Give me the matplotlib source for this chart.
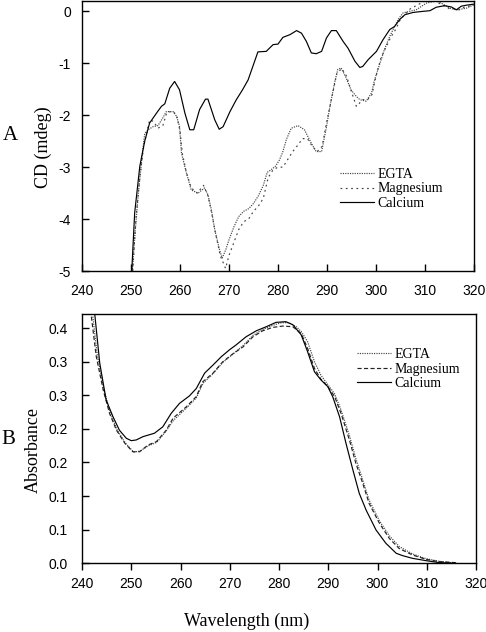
import matplotlib
matplotlib.use("Agg")
import matplotlib.pyplot as plt

# ---- panel A: CD spectra (mdeg) ----
cd_wl_egta = [250.2, 250.8, 251.5, 252.3, 252.8, 253.5, 254.5, 255.5, 256.5, 257.2,
              258.6, 259.3, 259.9, 260.3, 261.3, 262.3, 263.7, 265.0, 265.7, 266.4,
              267.1, 268.1, 268.6, 269.3, 270.0, 271.0, 272.0, 273.0, 274.0, 275.0,
              276.0, 277.0, 277.8, 278.6, 279.5, 280.3, 281.0, 281.7, 282.7, 284.1,
              285.4, 286.8, 287.8, 288.9, 289.9, 290.6, 291.6, 292.2, 292.9, 293.9,
              294.9, 296.0, 296.7, 298.0, 299.1, 299.7, 300.7, 301.7, 302.8, 303.8,
              304.5, 305.5, 306.8, 308.2, 310.3, 312.3, 313.3, 315.0, 316.4, 318.4,
              319.8]
cd_egta = [-5.1, -4.3, -3.5, -2.75, -2.35, -2.28, -2.22, -2.2, -2.05, -1.93,
           -1.93, -2.02, -2.21, -2.73, -3.11, -3.44, -3.5, -3.40, -3.53, -3.82,
           -4.21, -4.6, -4.75, -4.6, -4.4, -4.15, -3.95, -3.85, -3.8, -3.7,
           -3.55, -3.35, -3.1, -3.05, -2.98, -2.86, -2.7, -2.47, -2.25, -2.20,
           -2.28, -2.54, -2.70, -2.70, -2.22, -1.83, -1.35, -1.12, -1.09, -1.28,
           -1.51, -1.64, -1.70, -1.73, -1.57, -1.32, -1.03, -0.74, -0.48, -0.29,
           -0.16, -0.03, 0.0, 0.03, 0.16, 0.2, 0.16, 0.065, 0.03, 0.06,
           0.12]

cd_wl_mg = [250.3, 251.0, 251.8, 252.6, 253.3, 253.8, 254.6, 255.5, 256.5, 257.3,
            258.5, 259.3, 260.0, 260.5, 261.3, 262.3, 263.5, 264.8, 265.7, 266.4,
            267.2, 268.2, 269.3, 270.0, 271.0, 272.0, 273.0, 274.0, 275.0, 276.0,
            277.0, 278.0, 279.0, 280.0, 281.0, 282.0, 283.0, 284.1, 285.0, 286.0,
            287.0, 288.0, 289.0, 290.0, 291.0, 292.0, 293.0, 294.0, 295.0, 296.0,
            297.3, 298.3, 299.2, 300.0, 301.0, 302.0, 303.0, 304.0, 305.0, 306.0,
            307.0, 308.0, 309.0, 310.0, 311.0, 312.0, 313.0, 314.0, 315.0, 316.0,
            317.0, 318.0, 319.0, 320.0]
cd_mg = [-5.1, -4.0, -3.2, -2.6, -2.3, -2.09, -2.12, -2.25, -2.2, -1.95,
         -1.92, -2.0, -2.3, -2.75, -3.1, -3.4, -3.5, -3.35, -3.55, -3.85,
         -4.25, -4.7, -4.95, -4.7, -4.45, -4.2, -4.05, -4.0, -3.85, -3.75,
         -3.6, -3.2, -3.05, -3.0, -3.0, -2.85, -2.7, -2.57, -2.45, -2.45,
         -2.6, -2.7, -2.6, -2.1, -1.65, -1.2, -1.1, -1.25, -1.55, -1.83,
         -1.70, -1.7, -1.6, -1.25, -0.9, -0.7, -0.5, -0.35, -0.15, -0.05,
         0.05, 0.1, 0.15, 0.2, 0.22, 0.2, 0.15, 0.1, 0.05, 0.05,
         0.03, 0.08, 0.1, 0.12]

cd_wl_ca = [250.1, 250.75, 251.8, 252.8, 253.8, 255.2, 256.2, 256.9, 257.9, 258.9,
            259.9, 261.0, 262.0, 262.8, 264.0, 265.2, 265.7, 267.1, 268.0, 268.8,
            270.2, 271.5, 272.7, 273.9, 274.9, 275.9, 277.6, 279.0, 280.0, 281.0,
            282.4, 283.8, 284.8, 285.8, 286.8, 287.8, 288.9, 289.9, 290.9, 291.9,
            293.3, 294.3, 295.7, 296.7, 297.3, 298.4, 300.1, 301.4, 302.8, 303.8,
            304.8, 305.9, 307.6, 309.5, 311.0, 312.3, 314.0, 315.4, 316.4, 317.4,
            318.5, 320.0]
cd_ca = [-5.1, -3.88, -2.98, -2.5, -2.15, -1.96, -1.83, -1.78, -1.48, -1.35,
         -1.51, -1.96, -2.28, -2.28, -1.89, -1.69, -1.69, -2.09, -2.27, -2.22,
         -1.93, -1.70, -1.52, -1.32, -1.05, -0.78, -0.77, -0.64, -0.63, -0.50,
         -0.45, -0.37, -0.42, -0.58, -0.80, -0.815, -0.77, -0.51, -0.37, -0.37,
         -0.58, -0.71, -0.96, -1.08, -1.06, -0.93, -0.77, -0.55, -0.35, -0.29,
         -0.16, -0.064, -0.02, 0.0, 0.013, 0.08, 0.11, 0.085, 0.03, 0.10,
         0.12, 0.14]

# ---- panel B: absorbance ----
ab_wl_egta = [242.2, 243.1, 244.4, 245.7, 247.1, 248.8, 250.5, 251.8, 253.5, 255.2,
              257.1, 258.6, 261.2, 263.2, 264.6, 266.6, 268.6, 270.6, 272.7, 274.7,
              276.7, 278.7, 280.5, 282.0, 283.5, 284.5, 285.8, 287.2, 288.5, 289.9,
              291.3, 292.6, 294.3, 295.6, 297.0, 298.3, 300.4, 302.4, 304.4, 307.1,
              309.8, 312.5, 316.0]
ab_egta = [0.367, 0.31, 0.26, 0.225, 0.199, 0.179, 0.1655, 0.167, 0.175, 0.180,
           0.197, 0.213, 0.231, 0.246, 0.268, 0.282, 0.299, 0.311, 0.324, 0.339,
           0.348, 0.354, 0.358, 0.358, 0.352, 0.345, 0.330, 0.300, 0.280, 0.266,
           0.252, 0.228, 0.19, 0.156, 0.124, 0.094, 0.063, 0.041, 0.025, 0.014,
           0.007, 0.003, 0.0]

ab_wl_mg = [241.9, 242.9, 244.3, 245.6, 247.0, 248.7, 250.3, 251.7, 253.4, 255.1,
            257.1, 258.5, 261.2, 263.2, 264.5, 266.6, 268.6, 270.6, 272.7, 274.7,
            276.7, 278.7, 280.8, 282.8, 284.5, 285.8, 287.2, 288.5, 289.9, 291.3,
            292.6, 294.3, 295.6, 297.0, 298.3, 300.4, 302.4, 304.4, 307.1, 309.8,
            312.5, 315.9]
ab_mg = [0.367, 0.3075, 0.258, 0.223, 0.198, 0.1786, 0.166, 0.166, 0.176, 0.181,
         0.198, 0.216, 0.233, 0.248, 0.270, 0.283, 0.300, 0.3115, 0.322, 0.337,
         0.346, 0.351, 0.353, 0.352, 0.342, 0.320, 0.290, 0.274, 0.263, 0.248,
         0.223, 0.1835, 0.149, 0.119, 0.089, 0.0595, 0.037, 0.022, 0.0124, 0.006,
         0.0025, 0.001]

ab_wl_ca = [242.0, 242.6, 243.6, 244.9, 246.3, 247.6, 249.0, 250.0, 251.0, 252.4,
            254.7, 256.4, 258.1, 259.8, 261.8, 263.2, 264.9, 266.6, 268.3, 270.0,
            271.3, 273.3, 275.4, 277.4, 279.4, 281.4, 282.8, 284.5, 285.8, 287.2,
            288.5, 289.9, 290.9, 292.3, 293.6, 295.0, 296.3, 297.7, 299.7, 301.7,
            303.8, 305.1, 307.1, 309.8, 312.5, 315.9]
ab_ca = [0.41, 0.37, 0.298, 0.243, 0.218, 0.198, 0.186, 0.1825, 0.1835, 0.1885,
         0.1935, 0.203, 0.223, 0.238, 0.249, 0.260, 0.283, 0.295, 0.3075, 0.318,
         0.325, 0.337, 0.346, 0.352, 0.3585, 0.3595, 0.355, 0.340, 0.315, 0.285,
         0.273, 0.263, 0.248, 0.218, 0.1786, 0.139, 0.104, 0.079, 0.0496, 0.0298,
         0.0149, 0.0114, 0.0074, 0.004, 0.001, 0.0]

x_ticks = [240, 250, 260, 270, 280, 290, 300, 310, 320]
cd_ticks = [-5, -4, -3, -2, -1, 0]
ab_ticks = [0.0, 0.05, 0.1, 0.15, 0.2, 0.25, 0.3, 0.35]
ab_ticklabels = ['0.0', '0.1', '0.1', '0.2', '0.2', '0.3', '0.3', '0.4']
labels = ['EGTA', 'Magnesium', 'Calcium']

serif = 'Liberation Serif'
sans = 'Liberation Sans'

fig = plt.figure(figsize=(4.86, 6.32), dpi=100)
axA = fig.add_axes([82 / 486, 1 - 271 / 632, 392 / 486, 270 / 632])
axB = fig.add_axes([82 / 486, 1 - 563.3 / 632, 394 / 486, 249 / 632])

lw = 0.85
grey = '#444444'
axA.plot(cd_wl_egta, cd_egta, color=grey, lw=lw, ls=(0, (1, 1)), label=labels[0])
axA.plot(cd_wl_mg, cd_mg, color=grey, lw=lw, ls=(0, (1.5, 3)), label=labels[1])
axA.plot(cd_wl_ca, cd_ca, color='black', lw=lw, ls='-', label=labels[2])

axB.plot(ab_wl_egta, ab_egta, color=grey, lw=lw, ls=(0, (1, 1)), label=labels[0])
axB.plot(ab_wl_mg, ab_mg, color='#222222', lw=lw, ls=(0, (3.5, 2)), label=labels[1])
axB.plot(ab_wl_ca, ab_ca, color='black', lw=lw, ls='-', label=labels[2])

axA.set_xlim(240, 320)
axA.set_ylim(-5, 0.2)
axB.set_xlim(240, 320)
axB.set_ylim(0, 0.3705)

for ax in (axA, axB):
    ax.set_xticks(x_ticks)
    for sp in ax.spines.values():
        sp.set_linewidth(1.0)

axA.set_yticks(cd_ticks)
axA.set_yticklabels([str(t) for t in cd_ticks], fontfamily=sans, fontsize=10)
axA.set_xticklabels([str(t) for t in x_ticks], fontfamily=sans, fontsize=10)
axA.tick_params(axis='x', direction='in', length=5, width=1, pad=9)
axA.tick_params(axis='y', direction='in', length=5, width=1, pad=8)

axB.set_yticks(ab_ticks)
axB.set_yticklabels(ab_ticklabels, fontfamily=sans, fontsize=10)
axB.set_xticklabels([str(t) for t in x_ticks], fontfamily=sans, fontsize=10)
axB.tick_params(axis='x', direction='out', length=5, width=1, pad=5)
axB.tick_params(axis='y', direction='in', length=5, width=1, pad=10)

axA.legend(loc='center left', bbox_to_anchor=(0.657, 0.304), frameon=False,
           prop={'family': serif, 'size': 10}, handlelength=2.5,
           handletextpad=0.25, labelspacing=0.1, borderpad=0, borderaxespad=0)
axB.legend(loc='center left', bbox_to_anchor=(0.698, 0.78), frameon=False,
           prop={'family': serif, 'size': 10}, handlelength=2.45,
           handletextpad=0.25, labelspacing=0.1, borderpad=0, borderaxespad=0)

fig.text(43 / 486, 1 - 147 / 632, 'CD (mdeg)', rotation=90, ha='center', va='center',
         family=serif, fontsize=13)
fig.text(33 / 486, 1 - 450 / 632, 'Absorbance', rotation=90, ha='center', va='center',
         family=serif, fontsize=13)
fig.text(247 / 486, 1 - 621 / 632, 'Wavelength (nm)', ha='center', va='center',
         family=serif, fontsize=13)
fig.text(10 / 486, 1 - 135 / 632, 'A', ha='center', va='center', family=serif, fontsize=15)
fig.text(8 / 486, 1 - 440 / 632, 'B', ha='center', va='center', family=serif, fontsize=15)

fig.savefig('out.png', dpi=100)
